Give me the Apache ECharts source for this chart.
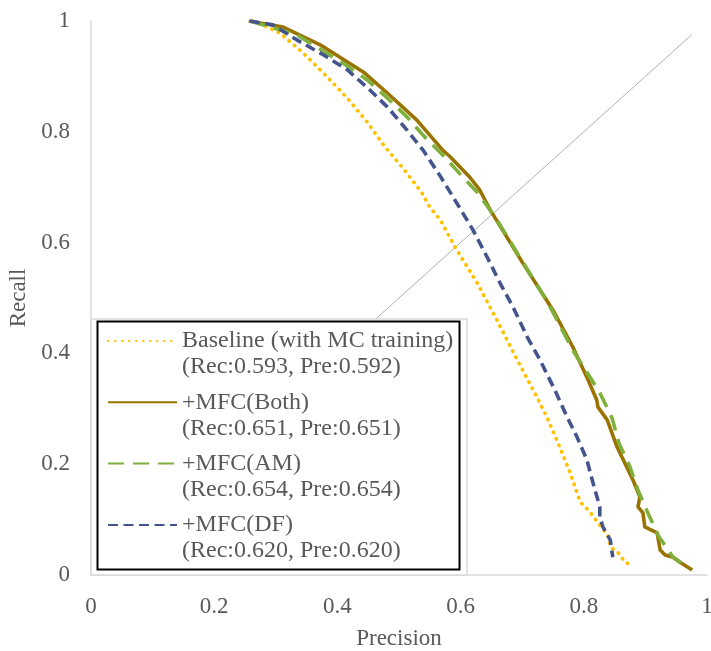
<!DOCTYPE html>
<html>
<head>
<meta charset="utf-8">
<script src="https://cdn.jsdelivr.net/npm/echarts@6/dist/echarts.min.js"></script>
<style>html,body{margin:0;padding:0;background:#fff;}#c{width:711px;height:651px;}</style>
</head>
<body>
<div id="c"></div>
<script>
// [precision, recall]
var baseline = [[0.262,1.0],[0.279,0.993],[0.307,0.978],[0.343,0.944],[0.380,0.903],[0.416,0.861],[0.448,0.818],[0.477,0.773],[0.506,0.735],[0.537,0.690],[0.550,0.664],[0.567,0.641],[0.591,0.592],[0.627,0.527],[0.659,0.460],[0.692,0.388],[0.724,0.321],[0.740,0.285],[0.761,0.231],[0.778,0.184],[0.794,0.132],[0.810,0.114],[0.823,0.094],[0.839,0.072],[0.843,0.051],[0.856,0.040],[0.867,0.023],[0.878,0.018]];
var mfcBoth = [[0.256,1.0],[0.312,0.989],[0.372,0.957],[0.442,0.908],[0.481,0.870],[0.529,0.821],[0.571,0.767],[0.583,0.755],[0.615,0.718],[0.631,0.695],[0.648,0.659],[0.701,0.563],[0.750,0.478],[0.782,0.412],[0.807,0.352],[0.821,0.316],[0.823,0.303],[0.838,0.280],[0.854,0.231],[0.864,0.208],[0.880,0.171],[0.891,0.141],[0.888,0.123],[0.896,0.112],[0.899,0.087],[0.919,0.076],[0.924,0.045],[0.932,0.036],[0.945,0.032],[0.956,0.023],[0.976,0.009]];
var mfcAM = [[0.258,1.0],[0.334,0.975],[0.409,0.924],[0.448,0.894],[0.481,0.861],[0.513,0.827],[0.539,0.794],[0.571,0.758],[0.599,0.724],[0.627,0.691],[0.656,0.646],[0.696,0.574],[0.742,0.491],[0.782,0.406],[0.826,0.329],[0.846,0.283],[0.857,0.238],[0.875,0.195],[0.888,0.153],[0.904,0.112],[0.922,0.069],[0.945,0.032],[0.969,0.014]];
var mfcDF = [[0.258,1.0],[0.295,0.993],[0.334,0.966],[0.377,0.939],[0.416,0.912],[0.453,0.875],[0.481,0.845],[0.513,0.803],[0.539,0.767],[0.567,0.720],[0.594,0.671],[0.620,0.623],[0.643,0.574],[0.664,0.527],[0.685,0.484],[0.708,0.430],[0.729,0.388],[0.753,0.334],[0.773,0.285],[0.789,0.249],[0.805,0.208],[0.815,0.166],[0.826,0.123],[0.826,0.105],[0.831,0.087],[0.843,0.063],[0.846,0.040],[0.847,0.032]];
var diagonal = [[0, 0], [0.975, 0.975]];
var seriesNames = ['Baseline (with MC training)', '+MFC(Both)', '+MFC(AM)', '+MFC(DF)'];
var seriesScores = ['(Rec:0.593, Pre:0.592)', '(Rec:0.651, Pre:0.651)', '(Rec:0.654, Pre:0.654)', '(Rec:0.620, Pre:0.620)'];
var xTicks = [0, 0.2, 0.4, 0.6, 0.8, 1];
var yTicks = [0, 0.2, 0.4, 0.6, 0.8, 1];

var font = 'Liberation Serif, Times New Roman, serif';
var gray = '#595959';
var chart = echarts.init(document.getElementById('c'), null, {renderer: 'canvas'});
function mk(name, data, color, type, width, cap) {
  return {
    name: name, type: 'line', data: data, symbol: 'none', smooth: false,
    lineStyle: {color: color, width: width, type: type, cap: cap || 'butt', join: 'round'},
    itemStyle: {color: color}, z: 2, animation: false
  };
}
var scoreMap = {};
seriesNames.forEach(function (n, i) { scoreMap[n] = seriesScores[i]; });
chart.setOption({
  animation: false,
  grid: {left: 91, right: 4, top: 21, bottom: 76, containLabel: false, outerBoundsMode: 'none'},
  xAxis: {
    type: 'value', min: xTicks[0], max: xTicks[xTicks.length - 1], interval: 0.2,
    name: 'Precision', nameLocation: 'middle', nameGap: 52,
    nameTextStyle: {fontFamily: font, fontSize: 23, color: gray},
    axisLine: {lineStyle: {color: '#d9d9d9', width: 1.5}},
    axisTick: {show: false}, splitLine: {show: false},
    axisLabel: {fontFamily: font, fontSize: 23, color: gray, margin: 20}
  },
  yAxis: {
    type: 'value', min: yTicks[0], max: yTicks[yTicks.length - 1], interval: 0.2,
    name: 'Recall', nameLocation: 'middle', nameGap: 51,
    nameTextStyle: {fontFamily: font, fontSize: 23, color: gray},
    axisLine: {show: true, lineStyle: {color: '#d9d9d9', width: 1.5}},
    axisTick: {show: false}, splitLine: {show: false},
    axisLabel: {fontFamily: font, fontSize: 23, color: gray, margin: 21}
  },
  graphic: [
    {type: 'rect', z: 3, silent: true, shape: {x: 91, y: 319, width: 376, height: 256},
     style: {fill: '#fff', stroke: '#d9d9d9', lineWidth: 1.5}},
    {type: 'rect', z: 3, silent: true, shape: {x: 97.5, y: 321.5, width: 362, height: 248},
     style: {fill: '#fff', stroke: '#000', lineWidth: 2}}
  ],
  legend: {
    orient: 'vertical', left: 107, top: 302,
    data: seriesNames,
    padding: 0,
    itemGap: -16.7,
    itemWidth: 69, itemHeight: 12,
    itemStyle: {opacity: 0},
    formatter: function (n) { return ' \n' + n + '\n' + scoreMap[n]; },
    textStyle: {fontFamily: font, fontSize: 24, color: gray, lineHeight: 26}
  },
  series: [
    {name: 'diag', type: 'line', data: diagonal, symbol: 'none', lineStyle: {color: '#b0b0b0', width: 1}, z: 1, silent: true},
    mk(seriesNames[0], baseline, '#FFC000', [0.5, 6.5], 3.6, 'round'),
    mk(seriesNames[1], mfcBoth, '#997300', 'solid', 3.6),
    mk(seriesNames[2], mfcAM, '#80B03C', [16, 9], 3.6),
    mk(seriesNames[3], mfcDF, '#44548C', [10, 5.5], 3.6)
  ]
});
</script>
</body>
</html>
